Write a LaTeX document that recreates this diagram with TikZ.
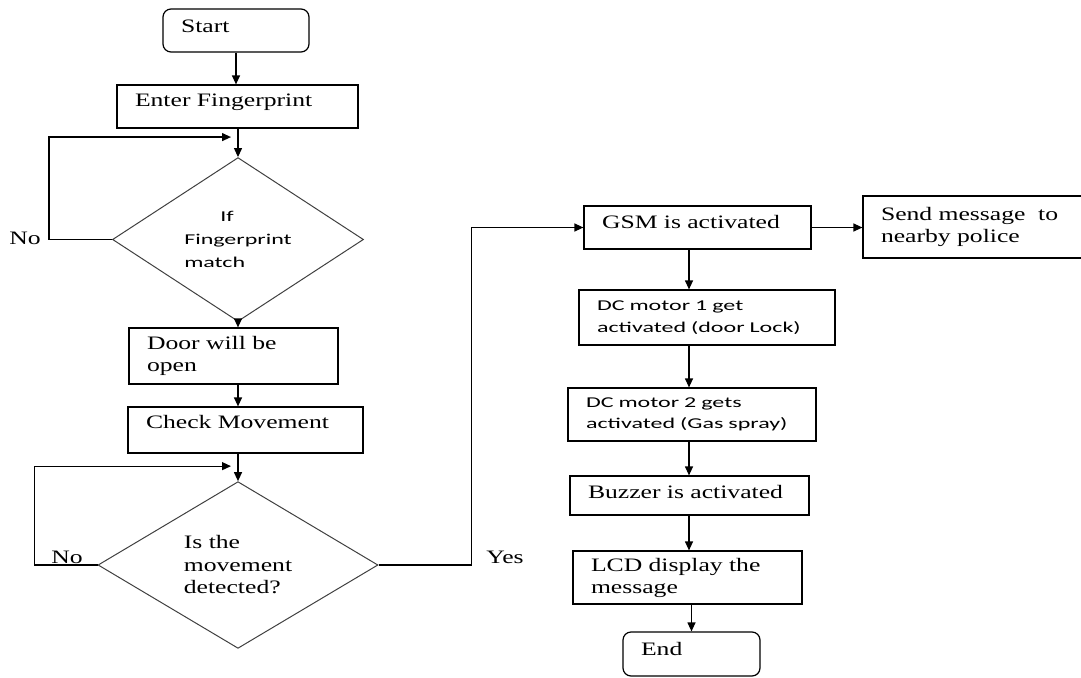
\documentclass[tikz,border=0pt]{standalone}
\usepackage{fontspec}
\setmainfont{Liberation Serif}[FakeStretch=1.35]
\newfontfamily\calfont{Carlito}[FakeStretch=1.6]
\usetikzlibrary{calc,shapes.geometric,arrows.meta}

\tikzset{
  box/.style={draw, line width=1.2pt, align=left, inner xsep=18pt, inner ysep=0pt},
  term/.style={box, rounded corners=8pt},
  dec/.style={diamond, draw=black!75, line width=1pt, inner sep=0pt, align=left},
  lift/.style={text height=14pt, text depth=#1},
  cal/.style={font=\calfont\fontsize{15pt}{21.5pt}\selectfont},
  arr/.style={-{Triangle[length=9pt,width=8pt]}, line width=1.2pt}
}

\begin{document}
\begin{tikzpicture}[x=1pt, y=-1pt, font=\fontsize{19pt}{22pt}\selectfont]

  \useasboundingbox (0,0) rectangle (1081,677);

  % left column
  \node [term, text width=110pt, minimum height=43pt, lift=10pt] (start) at (236,30.5) {Start};
  \node [box, text width=205pt, minimum height=43pt, lift=14pt] (enter) at (237.5,106.5) {Enter Fingerprint};
  \node [dec, minimum width=251pt, minimum height=137pt,
         font=\calfont\fontsize{15pt}{23pt}\selectfont] (match) at (238,239.5)
        {\hspace*{36pt}If\\Fingerprint\\match};
  \node [box, text width=173pt, minimum height=56pt] (door) at (233.5,356) {Door will be\\open};
  \node [box, text width=199pt, minimum height=46pt, lift=17pt] (check) at (245.5,430) {Check Movement};
  \node [dec, minimum width=280pt, minimum height=154pt, font=\fontsize{19pt}{22.5pt}\selectfont] (move) at (238,565)
        {Is the\\movement\\detected?};

  % right column
  \node [box, text width=191pt, minimum height=43pt, lift=12pt] (gsm) at (697.5,227.5) {GSM is activated};
  \node [box, text width=184pt, minimum height=62pt] (send) at (973,227) {Send message~~to\\nearby police};
  \node [box, cal, text width=220pt, minimum height=55pt] (motorA) at (707,317.5) {DC motor 1 get\\activated (door Lock)};
  \node [box, cal, text width=212pt, minimum height=53pt] (motorB) at (692,414.5) {DC motor 2 gets\\activated (Gas spray)};
  \node [box, text width=203pt, minimum height=39pt, lift=8pt] (buzz) at (689.5,495.5) {Buzzer is activated};
  \node [box, text width=193pt, minimum height=53pt] (lcd) at (687.5,577.5) {LCD display the\\message};
  \node [term, text width=101pt, minimum height=44pt, lift=11pt] (stop) at (691.5,654) {End};

  % labels
  \node (no1) at (25,238) {No};
  \node (no2) at (67,557) {No};
  \node (yes) at (505,557) {Yes};

  % connectors
  \coordinate (m1) at ($(match.north)+(0,-20)$);
  \coordinate (m2) at ($(move.north)+(0,-15)$);
  \coordinate (col) at (689,0);

  \draw [arr] (start.south) -- (start.south |- enter.north);
  \draw [arr] (enter.south -| match.north) -- (match.north);
  \draw [arr] (match.west) -- ++(-63,0) |- ([xshift=-7pt]m1);
  \draw [arr] (match.south) -- (match.south |- door.north);
  \draw [arr] (match.south |- door.south) -- (match.south |- check.north);
  \draw [arr] (match.south |- check.south) -- (move.north);
  \draw [arr] (move.west) -- ++(-63,0) |- ([xshift=-7pt]m2);
  \draw [arr] (move.east) -- ++(93,0) |- (gsm.west);
  \draw [arr] (gsm.east) -- (gsm.east -| send.west);
  \draw [arr] (gsm.south -| col) -- (motorA.north -| col);
  \draw [arr] (motorA.south -| col) -- (motorB.north -| col);
  \draw [arr] (motorB.south -| col) -- (buzz.north -| col);
  \draw [arr] (buzz.south -| col) -- (lcd.north -| col);
  \draw [arr] (lcd.south -| stop.north) -- (stop.north);

\end{tikzpicture}
\end{document}
